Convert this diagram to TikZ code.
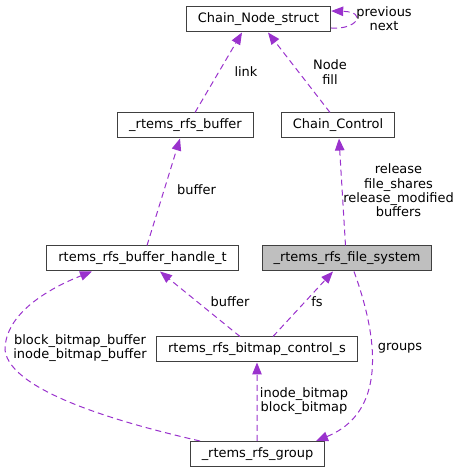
\documentclass[tikz,border=0pt]{standalone}
\usepackage{fontspec}
\setmainfont{DejaVu Sans}
\usetikzlibrary{arrows.meta}
\definecolor{edgecol}{HTML}{9A32CD}
\definecolor{fscol}{HTML}{BFBFBF}
\begin{document}
\begin{tikzpicture}[cls/.style={draw=black!75,line width=1bp,fill=white,rectangle,inner xsep=11.5bp,inner ysep=0bp,minimum height=25bp,font=\fontsize{12.96bp}{14.3bp}\selectfont},
  rel/.style={draw=edgecol,line width=1bp,dash pattern=on 6bp off 4bp,-{Triangle[length=12bp,width=9.5bp,fill=edgecol]}},
  lbl/.style={align=center,inner sep=0bp,font=\fontsize{12.96bp}{14.3bp}\selectfont}]
  \useasboundingbox (0bp,0bp) rectangle (459bp,473bp);
  \node (cns) at (258.5bp,453.5bp) [cls] {Chain\_Node\_struct};
  \node (buf) at (185.5bp,347.5bp) [cls] {\_rtems\_rfs\_buffer};
  \node (cc) at (338bp,347.5bp) [cls] {Chain\_Control};
  \node (handle) at (142.5bp,214.5bp) [cls] {rtems\_rfs\_buffer\_handle\_t};
  \node (fs) at (347bp,214.5bp) [cls,fill=fscol] {\_rtems\_rfs\_file\_system};
  \node (bmc) at (257bp,123.5bp) [cls] {rtems\_rfs\_bitmap\_control\_s};
  \node (grp) at (257.5bp,19bp) [cls] {\_rtems\_rfs\_group};
  \draw [rel] ([yshift=-8.5bp]cns.east) .. controls (357bp,443bp) and (368bp,461bp) .. ([yshift=8.5bp]cns.east);
  \node (lprev) at (384bp,454bp) [lbl] {previous\\next};
  \draw [rel] ([xshift=9.5bp]buf.north) -- ([xshift=-16.5bp]cns.south);
  \node (llink) at (246bp,401bp) [lbl] {link};
  \draw [rel] ([xshift=-8bp]cc.north) -- ([xshift=9.5bp]cns.south);
  \node (lnode) at (330bp,401bp) [lbl] {Node\\fill};
  \draw [rel] ([xshift=4.5bp]handle.north) -- ([xshift=-5.5bp]buf.south);
  \node (lbuf) at (196.5bp,283bp) [lbl] {buffer};
  \draw [rel] ([xshift=-1.5bp]fs.north) -- ([xshift=1bp]cc.south);
  \node (lrel) at (398.5bp,282.5bp) [lbl] {release\\file\_shares\\release\_modified\\buffers};
  \draw [rel] ([xshift=-17bp]bmc.north) -- ([xshift=17.5bp]handle.south);
  \node (lbuf2) at (230bp,171bp) [lbl] {buffer};
  \draw [rel] ([xshift=16bp]bmc.north) -- ([xshift=-14bp]fs.south);
  \node (lfs) at (317bp,171bp) [lbl] {fs};
  \draw [rel] ([xshift=-57.5bp]grp.north) .. controls (130bp,48bp) and (10bp,80bp) .. (5bp,123bp) .. controls (5bp,160bp) and (50bp,185bp) .. ([xshift=-50.5bp]handle.south);
  \node (lbmb) at (80bp,125bp) [lbl] {block\_bitmap\_buffer\\inode\_bitmap\_buffer};
  \draw [rel] ([xshift=-0.5bp]grp.north) -- (bmc.south);
  \node (lbm) at (304bp,72bp) [lbl] {inode\_bitmap\\block\_bitmap};
  \draw [rel] ([xshift=7bp]fs.south) .. controls (380bp,130bp) and (385bp,60bp) .. ([xshift=58.5bp]grp.north);
  \node (lgrp) at (400bp,125bp) [lbl] {groups};
\end{tikzpicture}
\end{document}
